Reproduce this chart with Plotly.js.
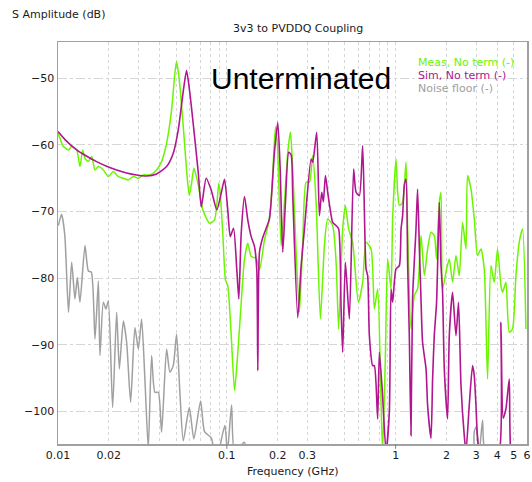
<!DOCTYPE html>
<html>
<head>
<meta charset="utf-8">
<script src="https://cdn.plot.ly/plotly-3.0.1.min.js"></script>
<style>html,body{margin:0;padding:0;background:#fff;}#chart{width:532px;height:482px;}</style>
</head>
<body>
<div id="chart"></div>
<script>
// ---- data (frequency in GHz, amplitude in dB) ----
const measFreq = [0.0100,0.01027,0.01076,0.01154,0.01205,0.0129,0.01349,0.0140,0.01445,0.01513,0.01583,0.01656,0.01734,0.01856,0.01986,0.02127,0.02277,0.02438,0.02609,0.02794,0.02991,0.03201,0.03502,0.03837,0.04108,0.04398,0.04707,0.04924,0.05039,0.05229,0.05522,0.05775,0.05993,0.06183,0.0638,0.06742,0.07217,0.0790,0.0846,0.08964,0.09137,0.09465,0.09823,0.1013,0.1062,0.1111,0.1162,0.1217,0.1273,0.1331,0.1394,0.1493,0.1561,0.1672,0.1749,0.1814,0.1864,0.1941,0.1995,0.2098,0.2195,0.2296,0.2382,0.2458,0.2574,0.2693,0.2817,0.2950,0.3085,0.3227,0.3380,0.3584,0.3785,0.3959,0.4238,0.4440,0.4597,0.4857,0.5039,0.5268,0.5565,0.6013,0.6378,0.6681,0.7152,0.7482,0.7825,0.8195,0.8376,0.869,0.8966,0.9393,0.9599,1.005,1.0275,1.052,1.100,1.152,1.178,1.233,1.290,1.349,1.413,1.479,1.547,1.620,1.694,1.748,1.814,1.856,1.897,2.004,2.079,2.174,2.277,2.382,2.491,2.610,2.667,2.794,2.923,3.057,3.202,3.349,3.503,3.669,3.838,4.014,4.205,4.298,4.501,4.709,4.925,5.159,5.396,5.644,5.912];
const measDb = [-58.25,-59,-60.25,-60.75,-60.25,-60.75,-63.25,-60.75,-62,-62.5,-61.75,-63.75,-63.25,-63.75,-64.75,-64,-64.75,-65,-65.25,-64.75,-65,-64.5,-64.5,-63.75,-62.5,-59.75,-54.75,-49.25,-47.5,-50.25,-57.25,-63.75,-67.6,-65.75,-63.5,-65.75,-69.75,-71.75,-71.25,-65.75,-67.25,-73.25,-80.25,-81.1,-88.6,-96.85,-91.1,-83.6,-77.1,-74.75,-76.75,-77,-78.75,-74.25,-72.25,-69.6,-65,-57.3,-60,-75.1,-68.6,-61.1,-58.1,-63.6,-76.1,-85.1,-74.6,-65.6,-65.6,-61.6,-68.6,-86.1,-75.1,-71.1,-72.1,-77.6,-87.6,-72.6,-69.1,-72.6,-74.6,-83.6,-80.6,-74.6,-75.6,-84.6,-81.6,-98.6,-106,-92,-77.1,-81.6,-71.1,-62.1,-67,-69.1,-68.6,-62.6,-72.6,-87.6,-82.6,-81.6,-73.6,-79.6,-75.6,-73.1,-73.6,-77.1,-68.6,-67.1,-81.6,-78.6,-77.1,-80.6,-76.6,-79.6,-71.6,-75.6,-64.6,-66.6,-71.1,-76.6,-75.6,-78.6,-95.1,-78.1,-80.6,-75.6,-81.1,-82.1,-80.6,-88.1,-87.6,-79.6,-74.6,-72.6,-87.6];

const simFreq = [0.0100,0.0110,0.0129,0.01479,0.01694,0.01941,0.02225,0.0255,0.02922,0.03348,0.03837,0.04398,0.04817,0.05157,0.05469,0.05775,0.06042,0.0638,0.0678,0.0706,0.0755,0.0808,0.0873,0.0926,0.0969,0.1013,0.1048,0.1096,0.1146,0.1178,0.1217,0.1273,0.1331,0.1394,0.1459,0.1505,0.1526,0.1561,0.1633,0.1711,0.1789,0.1915,0.2003,0.2070,0.2144,0.2225,0.2326,0.2405,0.2458,0.2631,0.2756,0.2883,0.3157,0.3227,0.3408,0.3536,0.3648,0.3733,0.3837,0.3959,0.4091,0.4238,0.4440,0.4597,0.4753,0.4857,0.5039,0.5321,0.5639,0.5829,0.6098,0.6378,0.6681,0.6828,0.6988,0.7309,0.7482,0.7825,0.8008,0.8342,0.8774,0.9178,0.9393,0.9599,1.005,1.052,1.077,1.100,1.126,1.152,1.178,1.205,1.233,1.260,1.320,1.349,1.381,1.413,1.444,1.514,1.547,1.620,1.656,1.694,1.748,1.814,1.856,1.897,1.942,2.031,2.079,2.174,2.277,2.358,2.438,2.550,2.610,2.730,2.855,2.923,2.991,3.129,3.585,4.109,4.205,4.337,4.501,4.709,4.819,5.396,6.0];
const simDb = [-58,-59.2,-60.75,-61.7,-62.5,-63.2,-63.75,-64.2,-64.5,-64.65,-64.35,-63.25,-61.25,-57.75,-52.75,-48.85,-52.25,-57.75,-64.25,-69.3,-65,-66.75,-69.75,-67.25,-65.15,-69.75,-73.75,-72.5,-78.75,-83.1,-73.25,-67.75,-71.25,-73.75,-75.25,-78.75,-93.85,-76.1,-73.9,-72.5,-71.1,-61.1,-56.6,-63.6,-76.1,-68.6,-61.1,-61.5,-67.6,-85.9,-78.1,-72.6,-62.1,-62.6,-58.1,-70.6,-67.1,-68.5,-64.6,-67.1,-69.6,-71.6,-72.1,-72.6,-84.6,-91.1,-77.6,-86.1,-63.6,-67.1,-67.6,-60.1,-78.6,-79.6,-88.6,-93.1,-93.1,-101.1,-91.1,-97,-106,-100,-81.6,-83.6,-78.6,-78.1,-72.6,-70.6,-66,-65.1,-78,-88.6,-103.6,-83,-72.6,-66.6,-75.1,-83,-89.6,-93.6,-99.1,-104,-95,-88.6,-83.6,-68.6,-78,-82.1,-93.6,-101.1,-88.6,-82.1,-88.6,-83.6,-96,-103.6,-106,-99,-93.1,-94.6,-99,-106,-108,-106,-86.6,-101,-99.6,-95.1,-106,-110,-110];

const noiseFreq = [0.01005,0.0105,0.01097,0.01154,0.01205,0.0126,0.01302,0.01349,0.01445,0.01513,0.01576,0.01656,0.01734,0.01772,0.01856,0.01923,0.01986,0.02107,0.02225,0.02309,0.02438,0.0255,0.02693,0.02855,0.02991,0.03128,0.03271,0.03426,0.03584,0.03749,0.03927,0.04108,0.04398,0.04599,0.04817,0.05039,0.05271,0.05522,0.05993,0.0638,0.06995,0.0738,0.08118,0.08576,0.09729,0.1009,0.1067,0.1111,0.1273,0.1326,0.2693,2.730,2.923,3.004,3.129,3.273,3.395,6.0];
const noiseDb = [-72.1,-70.4,-73.5,-85.1,-77.6,-83.1,-79.9,-83.6,-75.1,-78.9,-79.1,-89.1,-80.4,-91.6,-83.6,-84.6,-83.4,-99.4,-85.1,-93.6,-86.4,-89.6,-98.6,-87.4,-90.6,-86.1,-95.1,-105.5,-91.6,-97.1,-97.1,-103.1,-90.6,-94.1,-93.1,-88.4,-97.1,-104.4,-99.4,-104.1,-98.4,-103,-104,-108,-102.1,-106,-99,-106,-104.6,-108,-112,-110,-103,-102.3,-106,-101.3,-106,-112];

const seriesNames = ["Meas, No term (-)", "Sim, No term (-)", "Noise floor (-)"];
const xTickVals = [0.01,0.02,0.1,0.2,0.3,1,2,3,4,5,6];
const xTickText = ["0.01","0.02","0.1","0.2","0.3","1","2","3","4","5","6"];
const xMinorVals = [0.03,0.04,0.05,0.06,0.07,0.08,0.09,0.4,0.5,0.6,0.7,0.8,0.9];
const yTickVals = [-100,-90,-80,-70,-60,-50];

const colMeas = "#6cf500", colSim = "#b0168f", colNoise = "#a0a0a0";
const FONT = "DejaVu Sans, Verdana, sans-serif";
const TXT = "#1a1a1a";

const traces = [
  {x: noiseFreq, y: noiseDb, name: seriesNames[2], mode: "lines", line: {color: colNoise, width: 1.5, shape: "spline", smoothing: 0.6}},
  {x: measFreq, y: measDb, name: seriesNames[0], mode: "lines", line: {color: colMeas, width: 1.5, shape: "spline", smoothing: 0.6}},
  {x: simFreq, y: simDb, name: seriesNames[1], mode: "lines", line: {color: colSim, width: 1.6, shape: "spline", smoothing: 0.6}}
];

const gridCol = "#d6d6d6";
const layout = {
  width: 532, height: 482,
  margin: {l: 58, r: 5, t: 42, b: 38},
  paper_bgcolor: "#fff", plot_bgcolor: "#fff",
  showlegend: false,
  font: {family: FONT, size: 11, color: TXT},
  xaxis: {
    type: "log", range: [-2, Math.log10(6.0)],
    tickmode: "array", tickvals: xTickVals, ticktext: xTickText,
    ticks: "", showgrid: true, gridcolor: gridCol, griddash: "dot", gridwidth: 1,
    minor: {tickmode: "array", tickvals: xMinorVals, showgrid: true, gridcolor: gridCol, griddash: "dot", ticks: ""},
    showline: true, linecolor: "#a0a0a0", linewidth: 1.5, mirror: true,
    zeroline: false, tickfont: {family: FONT, size: 11, color: TXT}
  },
  yaxis: {
    range: [-104.86, -44.56],
    tickmode: "array", tickvals: yTickVals,
    ticks: "", showgrid: true, gridcolor: gridCol, griddash: "dashdot", gridwidth: 1,
    showline: true, linecolor: "#a0a0a0", linewidth: 1.5, mirror: true,
    zeroline: false, tickfont: {family: FONT, size: 11, color: TXT}
  },
  shapes: [0.1, 1].map(v => ({type: "line", xref: "x", yref: "paper", x0: v, x1: v, y0: 0, y1: -0.012, line: {color: "#808080", width: 1}})),
  annotations: [
    {text: "S Amplitude (dB)", xref: "paper", yref: "paper", x: -48/469, y: (444-14)/402, xanchor: "left", yanchor: "middle", showarrow: false, font: {family: FONT, size: 11, color: TXT}},
    {text: "3v3 to PVDDQ Coupling", xref: "paper", yref: "paper", x: (298-58)/469, y: (444-28)/402, xanchor: "center", yanchor: "middle", showarrow: false, font: {family: FONT, size: 11, color: TXT}},
    {text: "Frequency (GHz)", xref: "paper", yref: "paper", x: (292.5-58)/469, y: (444-472)/402, xanchor: "center", yanchor: "middle", showarrow: false, font: {family: FONT, size: 11, color: TXT}},
    {text: "Unterminated", xref: "paper", yref: "paper", x: (301-58)/469, y: (444-78)/402, xanchor: "center", yanchor: "middle", showarrow: false, font: {family: "Liberation Sans, Arial, sans-serif", size: 30, color: "#000"}},
    {text: seriesNames[0], xref: "paper", yref: "paper", x: (416-58)/469, y: (444-62)/402, xanchor: "left", yanchor: "middle", showarrow: false, font: {family: FONT, size: 11, color: colMeas}},
    {text: seriesNames[1], xref: "paper", yref: "paper", x: (416-58)/469, y: (444-75)/402, xanchor: "left", yanchor: "middle", showarrow: false, font: {family: FONT, size: 11, color: colSim}},
    {text: seriesNames[2], xref: "paper", yref: "paper", x: (416-58)/469, y: (444-88)/402, xanchor: "left", yanchor: "middle", showarrow: false, font: {family: FONT, size: 11, color: colNoise}}
  ]
};

Plotly.newPlot("chart", traces, layout, {displayModeBar: false, staticPlot: true});
</script>
</body>
</html>
